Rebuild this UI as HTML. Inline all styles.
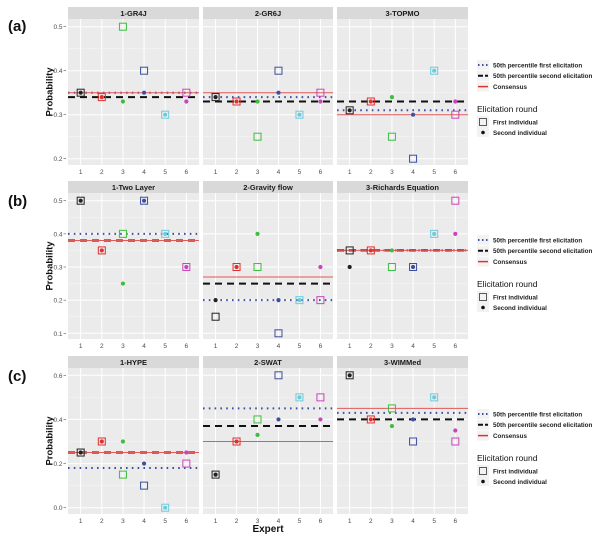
<!DOCTYPE html>
<html><head><meta charset="utf-8"><style>
html,body{margin:0;padding:0;background:#fff;}
svg{display:block;font-family:"Liberation Sans",sans-serif;}
</style></head><body>
<svg id="c" width="600" height="541" viewBox="0 0 600 541"></svg>
<script>
const experts=[1,2,3,4,5,6];
const colors=["#222222","#e03030","#3cbf3c","#3d4f9e","#6ccbdc","#cc44bb"];
const rowLabels=["(a)","(b)","(c)"];
const panelTitles=[["1-GR4J","2-GR6J","3-TOPMO"],["1-Two Layer","2-Gravity flow","3-Richards Equation"],["1-HYPE","2-SWAT","3-WIMMed"]];
const yTicks=[[0.2,0.3,0.4,0.5],[0.1,0.2,0.3,0.4,0.5],[0.0,0.2,0.4,0.6]];
const firstVals=[
 [[0.35,0.34,0.5,0.4,0.3,0.35],[0.34,0.33,0.25,0.4,0.3,0.35],[0.31,0.33,0.25,0.2,0.4,0.3]],
 [[0.5,0.35,0.4,0.5,0.4,0.3],[0.15,0.3,0.3,0.1,0.2,0.2],[0.35,0.35,0.3,0.3,0.4,0.5]],
 [[0.25,0.3,0.15,0.1,0.0,0.2],[0.15,0.3,0.4,0.6,0.5,0.5],[0.6,0.4,0.45,0.3,0.5,0.3]]];
const secondVals=[
 [[0.35,0.34,0.33,0.35,0.3,0.33],[0.34,0.33,0.33,0.35,0.3,0.33],[0.31,0.33,0.34,0.3,0.4,0.33]],
 [[0.5,0.35,0.25,0.5,0.4,0.3],[0.2,0.3,0.4,0.2,0.2,0.3],[0.3,0.35,0.35,0.3,0.4,0.4]],
 [[0.25,0.3,0.3,0.2,0.0,0.25],[0.15,0.3,0.33,0.4,0.5,0.4],[0.6,0.4,0.37,0.4,0.5,0.35]]];
const p50First=[[0.35,0.34,0.31],[0.4,0.2,0.35],[0.18,0.45,0.43]];
const p50Second=[[0.34,0.33,0.33],[0.38,0.25,0.35],[0.25,0.37,0.4]];
const consensus=[[0.35,0.35,0.30],[0.38,0.27,0.35],[0.25,0.3,0.45]];

const rows=[
 {stripTop:7,top:19,bottom:165,v0:0.2,y0:158.7,v1:0.5,y1:26.7,tickY:174,labY:25,leg:65},
 {stripTop:181,top:193,bottom:339,v0:0.1,y0:333.3,v1:0.5,y1:200.7,tickY:348,labY:200,leg:240},
 {stripTop:356,top:368,bottom:514,v0:0.0,y0:507.7,v1:0.6,y1:375.3,tickY:523,labY:375,leg:414}];
const panelX=[[68,199],[203,333],[337,468]];
const NS="http://www.w3.org/2000/svg";
const svg=document.getElementById('c');
function el(tag,attrs,parent,text){const e=document.createElementNS(NS,tag);for(const k in attrs)e.setAttribute(k,attrs[k]);if(text!==undefined)e.textContent=text;(parent||svg).appendChild(e);return e;}
function xs(p,e){const [a,b]=panelX[p];return a+(e-0.4)/6.2*(b-a);}
function ys(r,v){const R=rows[r];return R.y0+(v-R.v0)*(R.y1-R.y0)/(R.v1-R.v0);}

rows.forEach((R,r)=>{
 const g=el('g',{});
 
 
 const rl=el('text',{x:8,y:R.labY+6,'font-size':15,'font-weight':'bold',fill:'#111'},g,rowLabels[r]);
 
 
 const yl=el('text',{x:0,y:0,'font-size':9.5,'font-weight':'bold',fill:'#111','text-anchor':'middle',transform:`translate(52.5,${(R.top+R.bottom)/2}) rotate(-90)`},g,'Probability');
 
 
 yTicks[r].forEach(t=>{
  const tl=el('text',{x:62.5,y:ys(r,t)+2.5,'font-size':6.5,fill:'#4d4d4d','text-anchor':'end'},g,t.toFixed(1));
  
  
  el('line',{x1:63.5,x2:66,y1:ys(r,t),y2:ys(r,t),stroke:'#555','stroke-width':0.6},g);
 });
 panelX.forEach((px,p)=>{
  const pg=el('g',{},g);
  
  
  el('rect',{x:px[0],y:R.stripTop,width:px[1]-px[0],height:R.top-R.stripTop,fill:'#d9d9d9'},pg);
  const st=el('text',{x:(px[0]+px[1])/2,y:R.top-3,'font-size':7.5,'font-weight':'bold',fill:'#1a1a1a','text-anchor':'middle'},pg,panelTitles[r][p]);
  
  
  el('rect',{x:px[0],y:R.top,width:px[1]-px[0],height:R.bottom-R.top,fill:'#ebebeb'},pg);
  for(let i=0;i<yTicks[r].length-1;i++){const m=(yTicks[r][i]+yTicks[r][i+1])/2;el('line',{x1:px[0],x2:px[1],y1:ys(r,m),y2:ys(r,m),stroke:'#f7f7f7','stroke-width':0.5},pg);}
  yTicks[r].forEach(t=>el('line',{x1:px[0],x2:px[1],y1:ys(r,t),y2:ys(r,t),stroke:'#fff','stroke-width':1},pg));
  experts.forEach(e=>{
   el('line',{x1:xs(p,e),x2:xs(p,e),y1:R.top,y2:R.bottom,stroke:'#fff','stroke-width':1},pg);
   const xl=el('text',{x:xs(p,e),y:R.tickY,'font-size':6.5,fill:'#4d4d4d','text-anchor':'middle'},pg,String(e));
   
   
  });
  const L=[[p50First,'#3d4f9e',2,'1.6,4.2'],[p50Second,'#111',2,'7,5'],[consensus,'#e05a5a',1,'']];
  const lineNames=['p50-first-line','p50-second-line','consensus-line'];
  L.forEach((l,i)=>{
   const ln=el('line',{x1:px[0],x2:px[1],y1:ys(r,l[0][r][p]),y2:ys(r,l[0][r][p]),stroke:l[1],'stroke-width':l[2],'stroke-dasharray':l[3]},pg);
   
   
  });
  experts.forEach((e,i)=>{
   const x=xs(p,e);
   const sq=el('rect',{x:x-3.5,y:ys(r,firstVals[r][p][i])-3.5,width:7,height:7,fill:'none',stroke:colors[i],'stroke-width':1},pg);
   
   
   const dt=el('circle',{cx:x,cy:ys(r,secondVals[r][p][i]),r:2.1,fill:colors[i]},pg);
   
   
  });
 });
 const lg=el('g',{},g);
 
 
 const ly=R.leg;
 const items=[['#3d4f9e',2,'1.5,2.5','50th percentile first elicitation'],['#111',2,'5,2','50th percentile second elicitation'],['#e03030',1.5,'','Consensus']];
 items.forEach((it,i)=>{
  const y=ly+i*10.8;
  el('rect',{x:477,y:y-5,width:12,height:10,fill:'#f2f2f2'},lg);
  el('line',{x1:478,x2:488,y1:y,y2:y,stroke:it[0],'stroke-width':it[1],'stroke-dasharray':it[2]},lg);
  const t=el('text',{x:493,y:y+2.3,'font-size':6.3,'font-weight':'bold',fill:'#222'},lg,it[3]);
  
  
 });
 const tt=el('text',{x:477,y:ly+47,'font-size':8.5,fill:'#111'},lg,'Elicitation round');
 
 
 el('rect',{x:477,y:ly+51,width:12,height:21,fill:'#f2f2f2'},lg);
 el('rect',{x:479.5,y:ly+53.5,width:7,height:7,fill:'none',stroke:'#333','stroke-width':0.8},lg);
 el('circle',{cx:483,cy:ly+67.5,r:1.8,fill:'#111'},lg);
 const f1=el('text',{x:493,y:ly+59.5,'font-size':6.3,'font-weight':'bold',fill:'#222'},lg,'First individual');
 
 
 const f2=el('text',{x:493,y:ly+70,'font-size':6.3,'font-weight':'bold',fill:'#222'},lg,'Second individual');
 
 
});
const xt=el('text',{x:268,y:532,'font-size':10,'font-weight':'bold',fill:'#111','text-anchor':'middle'},svg,'Expert');


</script>
</body></html>
